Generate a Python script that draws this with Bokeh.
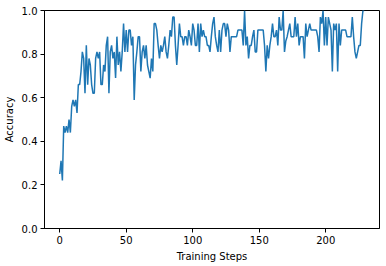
from bokeh.plotting import figure
from bokeh.models import Range1d, FixedTicker, NumeralTickFormatter
from bokeh.embed import file_html
from bokeh.resources import INLINE

accuracy = [
    0.25, 0.31, 0.22, 0.47, 0.44, 0.47, 0.44, 0.50, 0.44, 0.56,
    0.59, 0.56, 0.59, 0.53, 0.66, 0.66, 0.72, 0.81, 0.78, 0.62,
    0.84, 0.66, 0.78, 0.75, 0.66, 0.62, 0.62, 0.78, 0.81, 0.78,
    0.81, 0.66, 0.66, 0.75, 0.72, 0.84, 0.88, 0.62, 0.81, 0.84,
    0.78, 0.81, 0.69, 0.88, 0.75, 0.81, 0.72, 0.81, 0.94, 0.81,
    0.91, 0.81, 0.91, 0.91, 0.84, 0.88, 0.59, 0.75, 0.81, 0.88,
    0.88, 0.72, 0.81, 0.84, 0.78, 0.84, 0.75, 0.72, 0.69, 0.78,
    0.72, 0.94, 0.94, 0.91, 0.84, 0.78, 0.84, 0.81, 0.84, 0.88,
    0.81, 0.78, 0.84, 0.91, 0.88, 0.97, 0.97, 0.84, 0.75, 0.84,
    0.94, 0.88, 0.88, 0.84, 0.88, 0.88, 0.84, 0.91, 0.88, 0.84,
    0.94, 0.91, 0.84, 0.84, 0.94, 0.81, 0.94, 0.88, 0.91, 0.88,
    0.88, 0.84, 0.84, 0.81, 0.88, 0.94, 0.97, 0.88, 0.84, 0.81,
    0.91, 0.81, 0.91, 0.94, 0.94, 0.88, 0.94, 0.91, 0.81, 0.88,
    0.88, 0.88, 0.88, 0.88, 0.91, 0.91, 0.91, 0.91, 0.84, 1.00,
    0.84, 0.88, 0.78, 0.84, 0.84, 0.88, 0.91, 0.81, 0.81, 0.91,
    0.91, 0.91, 0.91, 0.91, 0.84, 0.72, 0.84, 0.78, 0.84, 0.88,
    0.94, 0.88, 0.88, 0.91, 0.84, 0.97, 0.91, 0.91, 1.00, 0.81,
    0.86, 0.88, 0.91, 0.94, 0.88, 0.88, 0.88, 0.97, 0.88, 0.94,
    0.84, 0.88, 0.88, 0.88, 0.78, 0.94, 0.88, 0.91, 0.94, 0.91,
    0.91, 0.91, 0.91, 0.91, 0.88, 0.81, 0.97, 0.94, 1.00, 0.84,
    0.97, 0.84, 0.97, 0.94, 0.91, 0.72, 0.94, 0.91, 0.94, 0.72,
    0.94, 0.84, 0.91, 0.91, 0.91, 0.91, 0.88, 0.88, 0.88, 0.88,
    0.97, 0.88, 0.81, 0.78, 0.81, 0.84, 0.84, 0.94, 1.00, 1.00,
]
steps = list(range(len(accuracy)))
x_ticks = [0, 50, 100, 150, 200]
y_ticks = [0.0, 0.2, 0.4, 0.6, 0.8, 1.0]

n = len(accuracy) - 1
pad = 0.05 * n

p = figure(width=386, height=266, output_backend="svg", toolbar_location=None,
           x_range=Range1d(-pad, n + pad), y_range=Range1d(0, 1),
           frame_width=335, frame_height=218,
           min_border_left=44, min_border_right=7, min_border_top=10, min_border_bottom=38)
p.line(steps, accuracy, line_color="#1f77b4", line_width=1.5)

p.grid.visible = False
p.outline_line_color = "black"
p.outline_line_width = 1
p.background_fill_color = "white"
p.border_fill_color = "white"

p.xaxis.ticker = FixedTicker(ticks=x_ticks)
p.yaxis.ticker = FixedTicker(ticks=y_ticks)
p.yaxis.formatter = NumeralTickFormatter(format="0.0")
p.xaxis.axis_label = "Training Steps"
p.yaxis.axis_label = "Accuracy"
for ax in (p.xaxis, p.yaxis):
    ax.minor_tick_line_color = None
    ax.major_tick_in = 0
    ax.major_tick_out = 4
    ax.major_label_text_font = "DejaVu Sans"
    ax.major_label_text_font_size = "10px"
    ax.major_label_text_color = "black"
    ax.axis_label_text_font = "DejaVu Sans"
    ax.axis_label_text_font_size = "10px"
    ax.axis_label_text_font_style = "normal"
    ax.axis_label_text_color = "black"
    ax.axis_line_color = "black"
    ax.major_tick_line_color = "black"
    ax.axis_label_standoff = 4
    ax.major_label_standoff = 3

open("out.html", "w").write(file_html(p, INLINE))
